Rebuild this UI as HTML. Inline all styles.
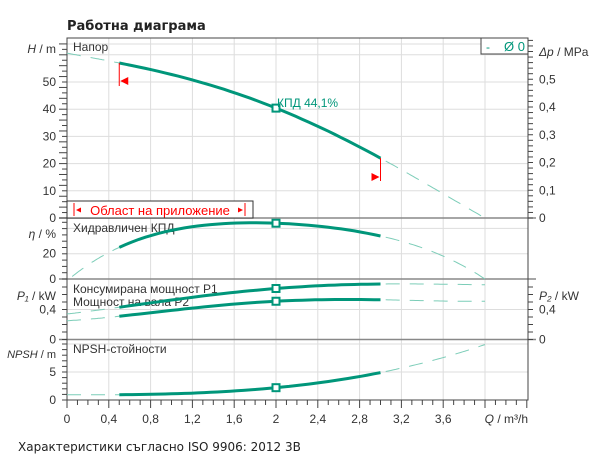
<!DOCTYPE html>
<html><head><meta charset="utf-8"><style>
body{margin:0;background:#fff}
svg{display:block;font-family:"Liberation Sans",sans-serif}
</style></head><body>
<svg id="s" width="600" height="473" xmlns="http://www.w3.org/2000/svg"></svg>
<script>
const s=document.getElementById('s');let h='';
const X=q=>67+q*104.5;
const yH=v=>218-v*2.72, yE=v=>279-v*1.265, yP=v=>339.5-v*75, yN=v=>400-v*5.6;
const T='#00967a',D='#7ccdb8';
h+='<text x="67" y="30" font-size="13" font-weight="bold" fill="#222" font-family="DejaVu Sans,sans-serif">Работна диаграма</text>';
for(let q=0.4;q<4.3;q+=0.4){const x=X(q);h+=`<line x1="${x}" y1="38" x2="${x}" y2="400" stroke="#ddd"/>`;}
for(let v=10;v<=60;v+=10)h+=`<line x1="67" y1="${yH(v)}" x2="528" y2="${yH(v)}" stroke="#ddd"/>`;
h+=`<line x1="67" y1="${yE(20)}" x2="528" y2="${yE(20)}" stroke="#ddd"/><line x1="67" y1="${yE(40)}" x2="528" y2="${yE(40)}" stroke="#ddd"/>`;
h+=`<line x1="67" y1="${yP(0.4)}" x2="528" y2="${yP(0.4)}" stroke="#ddd"/>`;
h+=`<line x1="67" y1="${yN(5)}" x2="528" y2="${yN(5)}" stroke="#ddd"/><line x1="67" y1="${yN(10)}" x2="528" y2="${yN(10)}" stroke="#ddd"/>`;
h+='<line x1="67" y1="44" x2="528" y2="44" stroke="#ddd"/>';
[218,279,339.5].forEach(y=>h+=`<line x1="59" y1="${y}" x2="536" y2="${y}" stroke="#888" stroke-width="1.5"/>`);
h+='<rect x="67" y="38" width="461" height="362" fill="none" stroke="#444"/>';
for(let y=218;y>=40;y-=5.44)h+=`<line x1="${(Math.round((218-y)/5.44)%2==0)?59:62}" y1="${y}" x2="67" y2="${y}" stroke="#444"/>`;
for(let y=279;y>=220;y-=6.3)h+=`<line x1="62" y1="${y}" x2="67" y2="${y}" stroke="#444"/>`;
for(let y=339.5;y>=281;y-=7.5)h+=`<line x1="62" y1="${y}" x2="67" y2="${y}" stroke="#444"/>`;
for(let y=400;y>=341;y-=5.6)h+=`<line x1="62" y1="${y}" x2="67" y2="${y}" stroke="#444"/>`;
for(let y=218;y>=40;y-=5.55)h+=`<line x1="528" y1="${y}" x2="533" y2="${y}" stroke="#444"/>`;
for(let y=339.5;y>=281;y-=7.5)h+=`<line x1="528" y1="${y}" x2="533" y2="${y}" stroke="#444"/>`;
for(let i=0;i<=44;i++){const x=X(i*0.1);if(x>528)break;h+=`<line x1="${x}" y1="400" x2="${x}" y2="${i%4==0?408:405}" stroke="#444"/>`;}
const L=(x,y,t,a='end',fs=12,c='#333',st='')=>h+=`<text x="${x}" y="${y}" font-size="${fs}" text-anchor="${a}" fill="${c}" ${st}>${t}</text>`;
[0,10,20,30,40,50].forEach(v=>L(56,yH(v)+4,v));
L(56,yE(0)+4,0);L(56,yE(20)+4,20);
L(56,yP(0)+4,0);L(56,yP(0.4)+4,'0,4');
L(56,yN(0)+4,0);L(56,yN(5)+4,5);
L(56,53,'<tspan font-style="italic">H</tspan>  /  m');
L(56,238,'<tspan font-style="italic">η</tspan>  /  %');
L(56,300,'<tspan font-style="italic">P₁</tspan>  / kW');
L(56,358,'<tspan font-style="italic">NPSH</tspan>   /  m',"end",11);
['0','0,1','0,2','0,3','0,4','0,5'].forEach((t,i)=>L(539,218-i*27.7+4,t,'start'));
L(539,56,'<tspan font-style="italic">Δp</tspan> / MPa','start');
L(539,yP(0)+4,'0','start');L(539,yP(0.4)+4,'0,4','start');
L(539,300,'<tspan font-style="italic">P₂</tspan> / kW','start');
['0','0,4','0,8','1,2','1,6','2','2,4','2,8','3,2','3,6'].forEach((t,i)=>L(X(i*0.4),423,t,'middle'));
L(528,423,'<tspan font-style="italic">Q</tspan> / m³/h','end');
L(18,451,'Характеристики съгласно ISO 9906: 2012 3B','start',12,'#222','font-family="DejaVu Sans,sans-serif" font-size="11.5"');
L(73,51,'Напор','start');L(73,232,'Хидравличен КПД','start');
L(73,293,'Консумирана мощност P1','start');L(73,306,'Мощност на вала P2','start');
L(73,353,'NPSH-стойности','start');
function path(f,fy,a,b){let d='';for(let i=0;i<=40;i++){const q=a+(b-a)*i/40;d+=(i?'L':'M')+X(q).toFixed(1)+','+fy(f(q)).toFixed(1);}return d;}
function lag(pts){return q=>{let r=0;for(let i=0;i<pts.length;i++){let t=pts[i][1];for(let j=0;j<pts.length;j++)if(j!=i)t*=(q-pts[j][0])/(pts[i][0]-pts[j][0]);r+=t;}return r;}}
const fH=lag([[0,60.6],[0.5,57],[2,40.4],[3,22],[4,0]]);
const fE=lag([[0.05,2],[0.5,25],[2,44.1],[3,34],[4,0]]);
const fP1=lag([[0,0.34],[0.5,0.43],[2,0.68],[3,0.74],[4,0.73]]);
const fP2=lag([[0,0.25],[0.5,0.31],[2,0.51],[3,0.53],[4,0.51]]);
const fN=lag([[0,0.95],[0.5,0.95],[2,2.2],[3,4.9],[4,9.9]]);
[[fH,yH,0],[fE,yE,0.05],[fP1,yP,0],[fP2,yP,0],[fN,yN,0]].forEach(([f,fy,a])=>{
h+=`<path d="${path(f,fy,a,0.5)}" fill="none" stroke="${D}" stroke-width="1" stroke-dasharray="14,10"/>`;
h+=`<path d="${path(f,fy,3.05,4)}" fill="none" stroke="${D}" stroke-width="1" stroke-dasharray="14,10"/>`;
h+=`<path d="${path(f,fy,0.5,3)}" fill="none" stroke="${T}" stroke-width="3"/>`;
h+=`<rect x="${X(2)-3.5}" y="${fy(f(2))-3.5}" width="7" height="7" fill="#fff" stroke="${T}" stroke-width="2"/>`;
});
L(277,107,'КПД  44,1%','start',12,T);
h+=`<line x1="${X(0.5)}" y1="${yH(57)}" x2="${X(0.5)}" y2="86" stroke="red"/><polygon points="${X(0.5)+1},81 ${X(0.5)+9},77 ${X(0.5)+9},85" fill="red"/>`;
h+=`<line x1="${X(3)}" y1="${yH(22)}" x2="${X(3)}" y2="181" stroke="red"/><polygon points="${X(3)-1},177 ${X(3)-9},173 ${X(3)-9},181" fill="red"/>`;
h+='<rect x="67" y="201" width="186" height="17" fill="#fff" stroke="#333"/>';
h+='<line x1="74" y1="203" x2="74" y2="216" stroke="red"/><line x1="245" y1="203" x2="245" y2="216" stroke="red"/>';
h+='<polygon points="76,210 81,207.5 81,212.5" fill="red"/><polygon points="243,210 238,207.5 238,212.5" fill="red"/>';
L(160,215,'Област на приложение','middle',13,'red');
h+='<rect x="481" y="38" width="47" height="16" fill="#fff" stroke="#444"/>';
L(486,51,'-','start',12,T);L(525,51,'Ø 0','end',13,T);
s.innerHTML=h;
</script>
</body></html>
